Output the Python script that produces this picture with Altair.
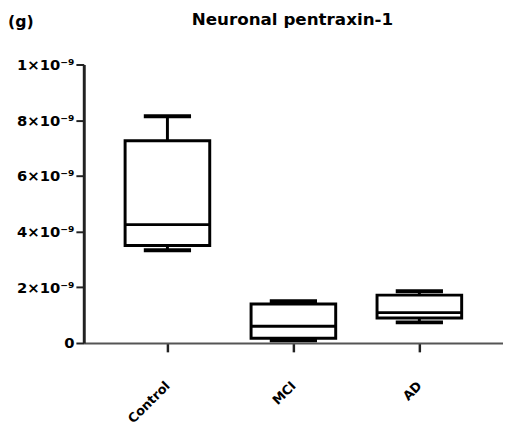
import altair as alt
import pandas as pd

groups = ["Control", "MCI", "AD"]
mins = [3.33, 0.10, 0.74]
q1s = [3.50, 0.17, 0.90]
medians = [4.25, 0.60, 1.09]
q3s = [7.26, 1.40, 1.72]
maxs = [8.14, 1.50, 1.86]
y_ticks = [0, 2, 4, 6, 8, 10]

df = pd.DataFrame({"group": groups, "min": mins, "q1": q1s, "median": medians,
                   "q3": q3s, "max": maxs})

FONT = "DejaVu Sans"

x = alt.X("group:N", sort=groups, title=None,
          scale=alt.Scale(type="point", padding=0.664),
          axis=alt.Axis(labelAngle=-45, labelAlign="right", labelBaseline="middle",
                        labelPadding=32, labelFont=FONT, labelFontWeight="bold",
                        labelFontSize=13, labelColor="black", tickSize=9,
                        tickWidth=2.5, tickColor="#222", domainColor="#555",
                        domainWidth=2, grid=False))
yscale = alt.Scale(domain=[0, 10], nice=False)
yaxis = alt.Axis(values=y_ticks, title=None, grid=False,
                 labelExpr="datum.value == 0 ? '0' : (datum.value == 10 ? '1' : datum.value) + '×10⁻⁹'",
                 labelFont=FONT, labelFontWeight="bold", labelFontSize=15,
                 labelColor="black", tickSize=8, tickWidth=2, tickColor="#222",
                 domainColor="#222", domainWidth=3, labelPadding=2)

base = alt.Chart(df)
whisk_hi = base.mark_rule(color="black", strokeWidth=3).encode(
    x=x, y=alt.Y("q3:Q", scale=yscale, axis=yaxis), y2="max:Q")
whisk_lo = base.mark_rule(color="black", strokeWidth=3).encode(
    x=x, y=alt.Y("min:Q", scale=yscale), y2="q1:Q")
box = base.mark_bar(size=86, fill="white", stroke="black", strokeWidth=3).encode(
    x=x, y=alt.Y("q1:Q", scale=yscale), y2="q3:Q")
med = base.mark_tick(size=86, thickness=3, color="black", opacity=1).encode(
    x=x, y=alt.Y("median:Q", scale=yscale))
cap_hi = base.mark_tick(size=48, thickness=4, color="black", opacity=1).encode(
    x=x, y=alt.Y("max:Q", scale=yscale))
cap_lo = base.mark_tick(size=48, thickness=4, color="black", opacity=1).encode(
    x=x, y=alt.Y("min:Q", scale=yscale))
tag = alt.Chart(pd.DataFrame({"t": ["(g)"]})).mark_text(
    font=FONT, fontWeight="bold", fontSize=16, align="left", baseline="middle",
    color="black").encode(x=alt.value(-77), y=alt.value(-43), text="t:N")
title = alt.Chart(pd.DataFrame({"t": ["Neuronal pentraxin-1"]})).mark_text(
    font=FONT, fontWeight="bold", fontSize=17, align="center", baseline="middle",
    color="black").encode(x=alt.value(212), y=alt.value(-45), text="t:N")

chart = alt.layer(whisk_hi, whisk_lo, box, med, cap_hi, cap_lo, tag, title).properties(
    width=426, height=283,
    autosize=alt.AutoSizeParams(type="none"),
    padding={"left": 77, "top": 54, "right": 0, "bottom": 86},
).configure(background="white").configure_view(stroke=None).configure_axis(grid=False)

chart.save("out.html", embed_options={"renderer": "svg", "actions": False})
